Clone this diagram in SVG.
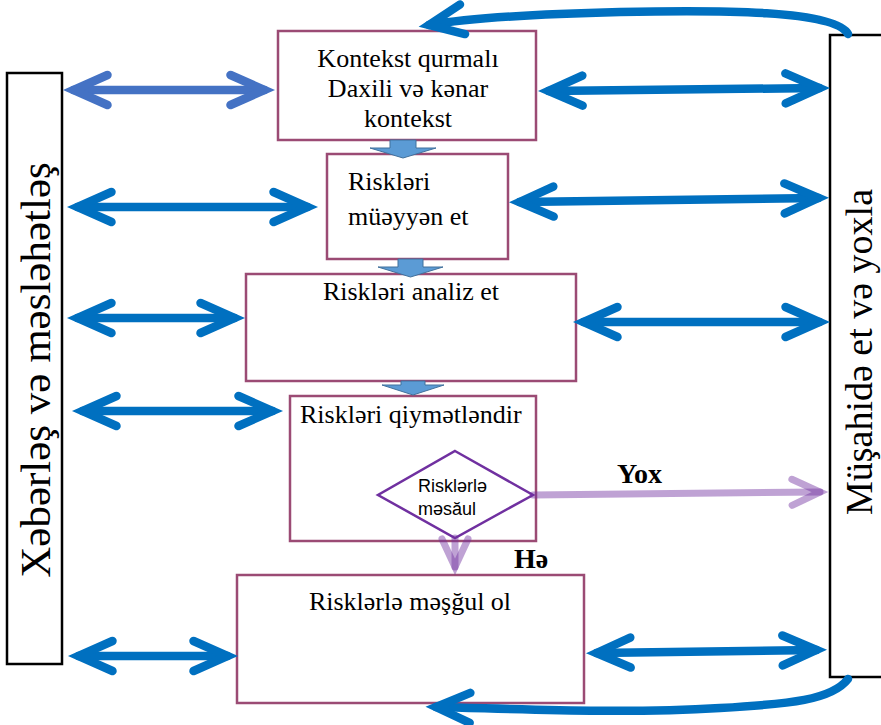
<svg xmlns="http://www.w3.org/2000/svg" width="881" height="725" viewBox="0 0 881 725">
  <style>
    .box { fill: #ffffff; stroke: #9b4b74; stroke-width: 2.5; }
    .side { fill: #ffffff; stroke: #000000; stroke-width: 2.5; }
    .serif { font-family: "Liberation Serif", "Times New Roman", serif; fill: #000000; }
    .t26 { font-size: 26px; }
    .conn { fill: none; stroke-width: 8.5; stroke-linecap: round; }
    .blue { stroke: #0070c0; }
    .indigo { stroke: #4472c4; }
    .yes-no { fill: none; stroke: #7030a0; stroke-opacity: 0.45; stroke-width: 7; stroke-linecap: round; }
    .down { fill: #5b9bd5; stroke: #41719c; stroke-width: 1; }
  </style>
  <defs>
    <marker id="hb" markerUnits="userSpaceOnUse" markerWidth="60" markerHeight="60" refX="0" refY="0" orient="auto-start-reverse" overflow="visible">
      <path d="M -34 -15 L 0 0 L -34 15" fill="none" stroke="#0070c0" stroke-width="8.5" stroke-linecap="round" stroke-linejoin="miter"/>
    </marker>
    <marker id="hi" markerUnits="userSpaceOnUse" markerWidth="60" markerHeight="60" refX="0" refY="0" orient="auto-start-reverse" overflow="visible">
      <path d="M -34 -15 L 0 0 L -34 15" fill="none" stroke="#4472c4" stroke-width="8.5" stroke-linecap="round" stroke-linejoin="miter"/>
    </marker>
    <marker id="hp" markerUnits="userSpaceOnUse" markerWidth="60" markerHeight="60" refX="0" refY="0" orient="auto" overflow="visible">
      <path d="M -28 -13 L 0 0 L -28 13" fill="none" stroke="#7030a0" stroke-opacity="0.45" stroke-width="7" stroke-linecap="round" stroke-linejoin="miter"/>
    </marker>
  </defs>

  <!-- side panels -->
  <g id="communicate">
    <rect class="side" x="7" y="73" width="55" height="591"/>
    <text class="serif" font-size="43" text-anchor="middle" transform="translate(50 370) rotate(-90)">Xəbərləş və məsləhətləş</text>
  </g>
  <g id="monitor">
    <rect class="side" x="830" y="35" width="60" height="642"/>
    <text class="serif" font-size="38" text-anchor="middle" transform="translate(872 352) rotate(-90)">Müşahidə et və yoxla</text>
  </g>

  <!-- process steps -->
  <g id="context">
    <rect class="box" x="278" y="31" width="258" height="109"/>
    <text class="serif t26" text-anchor="middle" x="408" y="67">Kontekst qurmalı</text>
    <text class="serif t26" text-anchor="middle" x="408" y="97">Daxili və kənar</text>
    <text class="serif t26" text-anchor="middle" x="408" y="127">kontekst</text>
  </g>
  <g id="identify">
    <rect class="box" x="327" y="154" width="181" height="105"/>
    <text class="serif t26" x="348" y="190">Riskləri</text>
    <text class="serif t26" x="348" y="225">müəyyən et</text>
  </g>
  <g id="analyse">
    <rect class="box" x="246" y="274" width="330" height="107"/>
    <text class="serif t26" text-anchor="middle" x="411" y="300">Riskləri analiz et</text>
  </g>
  <g id="evaluate">
    <rect class="box" x="290" y="396" width="246" height="145"/>
    <text class="serif t26" x="300" y="423">Riskləri qiymətləndir</text>
  </g>
  <g id="decision">
    <polygon points="455,451 533,495 455,538 378,495" fill="#ffffff" stroke="#7030a0" stroke-width="2.5"/>
    <text font-family="Liberation Sans, Arial, sans-serif" font-size="18" x="418" y="492">Risklərlə</text>
    <text font-family="Liberation Sans, Arial, sans-serif" font-size="18" x="418" y="515">məsăul</text>
  </g>
  <g id="treat">
    <rect class="box" x="237" y="575" width="347" height="128"/>
    <text class="serif t26" text-anchor="middle" x="410" y="610">Risklərlə məşğul ol</text>
  </g>

  <!-- connectors -->
  <g id="connectors">
    <!-- flow between steps -->
    <polygon class="down" points="390,140 416,140 416,148 436,148 403,158 370,148 390,148"/>
    <polygon class="down" points="398,259 423,259 423,267 443,267 410.5,277 378,267 398,267"/>
    <polygon class="down" points="401,381 425,381 425,385 444,385 413,395 382,385 401,385"/>

    <!-- consultation links -->
    <path class="conn indigo" d="M 73.5 90 L 264.5 90" marker-start="url(#hi)" marker-end="url(#hi)"/>
    <path class="conn blue" d="M 77.5 207 L 307.5 207" marker-start="url(#hb)" marker-end="url(#hb)"/>
    <path class="conn blue" d="M 77.5 318 L 234.5 318" marker-start="url(#hb)" marker-end="url(#hb)"/>
    <path class="conn blue" d="M 82.5 411 L 272.5 411" marker-start="url(#hb)" marker-end="url(#hb)"/>
    <path class="conn blue" d="M 78.5 656 L 227.5 656" marker-start="url(#hb)" marker-end="url(#hb)"/>

    <!-- monitoring links -->
    <path class="conn blue" d="M 548.5 91 L 819.5 88" marker-start="url(#hb)" marker-end="url(#hb)"/>
    <path class="conn blue" d="M 519.5 202 L 818.5 198" marker-start="url(#hb)" marker-end="url(#hb)"/>
    <path class="conn blue" d="M 583.5 322 L 819.5 322" marker-start="url(#hb)" marker-end="url(#hb)"/>
    <path class="conn blue" d="M 596.5 653 L 816.5 650" marker-start="url(#hb)" marker-end="url(#hb)"/>

    <!-- feedback loops -->
    <path class="conn blue" d="M 848 34 C 835 10 720 10 620 12 C 540 14 470 18 429 25" marker-end="url(#hb)"/>
    <path class="conn blue" d="M 848 679 C 832 700 790 704 720 708 C 620 714 520 709 436 707" marker-end="url(#hb)"/>

    <!-- decision outcomes -->
    <path class="yes-no" d="M 533 495 L 820 492" marker-end="url(#hp)"/>
    <path class="yes-no" d="M 455 538 L 455 567" marker-end="url(#hp)"/>
    <text class="serif" font-size="28" font-weight="bold" x="617" y="483">Yox</text>
    <text class="serif" font-size="28" font-weight="bold" x="514" y="568">Hə</text>
  </g>
</svg>
